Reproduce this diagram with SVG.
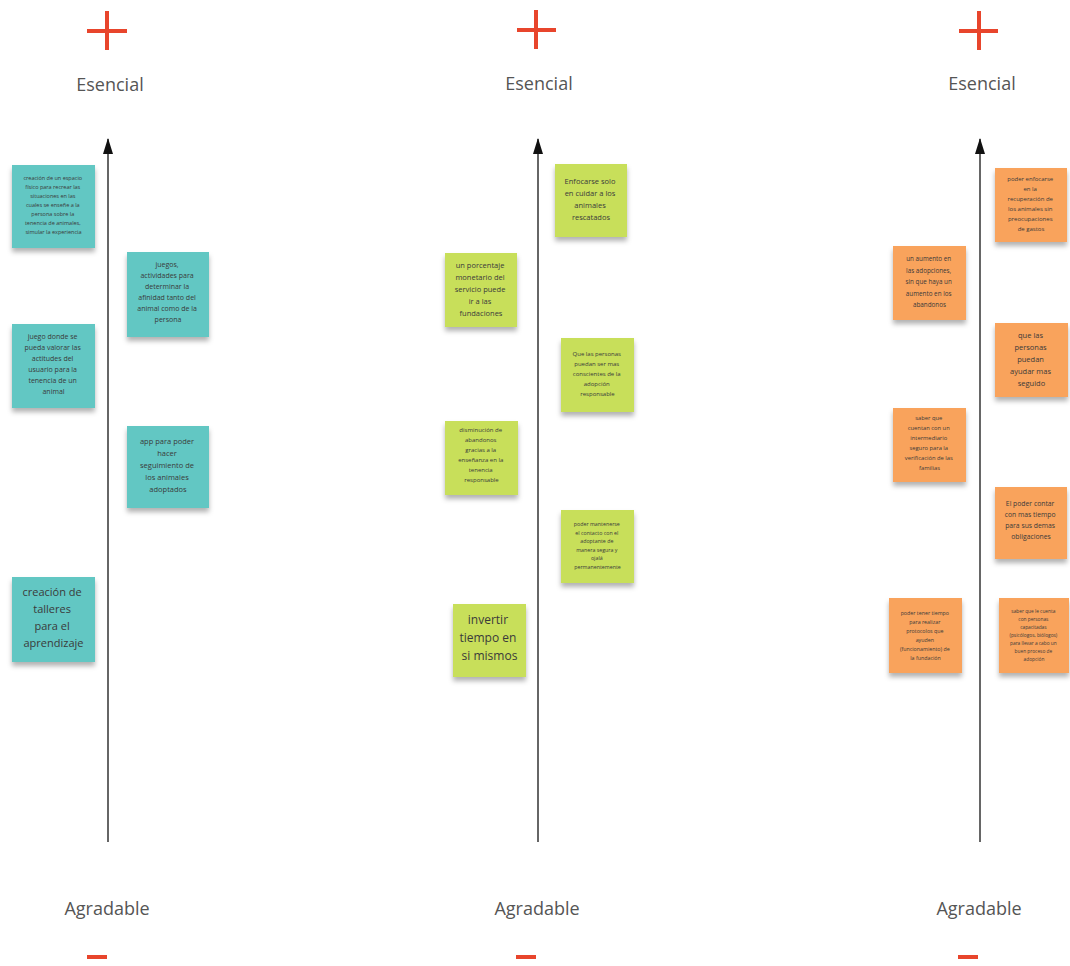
<svg xmlns="http://www.w3.org/2000/svg" width="1070" height="966" viewBox="0 0 1070 966">
<style>
.lbl{font-family:"Open Sans","Liberation Sans",sans-serif;font-size:18px;fill:#555;text-anchor:middle}
.t{font-family:"Open Sans","Liberation Sans",sans-serif;text-anchor:middle;fill:#3a3a3a}
.teal{fill:#62c7c3}
.lime{fill:#c8df5a}
.org{fill:#f9a35c}
.sign{stroke:#e8452c;stroke-width:4;fill:none}
.axis{stroke:#666;stroke-width:2;fill:none}
</style>
<defs>
<filter id="sh" x="-20%" y="-20%" width="140%" height="150%">
<feDropShadow dx="0" dy="4" stdDeviation="2.5" flood-color="#000" flood-opacity="0.3"/>
</filter>
<marker id="ah" viewBox="0 0 16 10" refX="15" refY="5" markerWidth="16" markerHeight="10" orient="auto" markerUnits="userSpaceOnUse">
<path d="M16,5 L0,0 L0,10 Z" fill="#111"/>
</marker>
</defs>

<g id="connectors">
<line class="axis" x1="108" y1="842" x2="108" y2="139" marker-end="url(#ah)"/>
<line class="axis" x1="538" y1="842" x2="538" y2="139" marker-end="url(#ah)"/>
<line class="axis" x1="980" y1="842" x2="980" y2="139" marker-end="url(#ah)"/>
</g>

<g id="labels">
<path class="sign" d="M87,31 H127 M107,11 V50"/>
<path class="sign" d="M517,30 H556 M536,10 V49"/>
<path class="sign" d="M959,31 H998 M979,11 V50"/>
<text class="lbl" x="110" y="91">Esencial</text>
<text class="lbl" x="539" y="90">Esencial</text>
<text class="lbl" x="982" y="90">Esencial</text>
<text class="lbl" x="107" y="915">Agradable</text>
<text class="lbl" x="537" y="915">Agradable</text>
<text class="lbl" x="979" y="915">Agradable</text>
<rect x="87" y="955" width="20" height="4" fill="#e8452c"/>
<rect x="516" y="955" width="20" height="4" fill="#e8452c"/>
<rect x="958" y="955" width="20" height="4" fill="#e8452c"/>
</g>

<!-- Left column -->
<g id="n1">
<rect class="teal" x="12" y="165" width="83" height="83" filter="url(#sh)"/>
<text class="t" font-size="5.5">
<tspan x="53.5" y="180">creación de un espacio</tspan>
<tspan x="53.5" y="189">físico para recrear las</tspan>
<tspan x="53.5" y="198">situaciones en las</tspan>
<tspan x="53.5" y="207">cuales se enseñe a la</tspan>
<tspan x="53.5" y="216">persona sobre la</tspan>
<tspan x="53.5" y="225">tenencia de animales,</tspan>
<tspan x="53.5" y="234">simular la experiencia</tspan>
</text>
</g>
<g id="n2">
<rect class="teal" x="127" y="252" width="82" height="85" filter="url(#sh)"/>
<text class="t" font-size="7">
<tspan x="168" y="267">juegos,</tspan>
<tspan x="168" y="278">actividades para</tspan>
<tspan x="168" y="289">determinar la</tspan>
<tspan x="168" y="300">afinidad tanto del</tspan>
<tspan x="168" y="311">animal como de la</tspan>
<tspan x="168" y="322">persona</tspan>
</text>
</g>
<g id="n3">
<rect class="teal" x="12" y="324" width="83" height="84" filter="url(#sh)"/>
<text class="t" font-size="7">
<tspan x="53.5" y="339">juego donde se</tspan>
<tspan x="53.5" y="350">pueda valorar las</tspan>
<tspan x="53.5" y="361">actitudes del</tspan>
<tspan x="53.5" y="372">usuario para la</tspan>
<tspan x="53.5" y="383">tenencia de un</tspan>
<tspan x="53.5" y="394">animal</tspan>
</text>
</g>
<g id="n4">
<rect class="teal" x="127" y="426" width="82" height="82" filter="url(#sh)"/>
<text class="t" font-size="7.5">
<tspan x="168" y="444">app para poder</tspan>
<tspan x="168" y="456">hacer</tspan>
<tspan x="168" y="468">seguimiento de</tspan>
<tspan x="168" y="480">los animales</tspan>
<tspan x="168" y="492">adoptados</tspan>
</text>
</g>
<g id="n5">
<rect class="teal" x="12" y="577" width="83" height="85" filter="url(#sh)"/>
<text class="t" font-size="11">
<tspan x="53.5" y="596">creación de</tspan>
<tspan x="53.5" y="613">talleres</tspan>
<tspan x="53.5" y="630">para el</tspan>
<tspan x="53.5" y="647">aprendizaje</tspan>
</text>
</g>

<!-- Middle column -->
<g id="m1">
<rect class="lime" x="555" y="164" width="72" height="73" filter="url(#sh)"/>
<text class="t" font-size="7.5">
<tspan x="591" y="184">Enfocarse solo</tspan>
<tspan x="591" y="196">en cuidar a los</tspan>
<tspan x="591" y="208">animales</tspan>
<tspan x="591" y="220">rescatados</tspan>
</text>
</g>
<g id="m2">
<rect class="lime" x="445" y="253" width="72" height="74" filter="url(#sh)"/>
<text class="t" font-size="7.5">
<tspan x="481" y="268">un porcentaje</tspan>
<tspan x="481" y="280">monetario del</tspan>
<tspan x="481" y="292">servicio puede</tspan>
<tspan x="481" y="304">ir a las</tspan>
<tspan x="481" y="316">fundaciones</tspan>
</text>
</g>
<g id="m3">
<rect class="lime" x="561" y="338" width="73" height="74" filter="url(#sh)"/>
<text class="t" font-size="6">
<tspan x="597.5" y="356">Que las personas</tspan>
<tspan x="597.5" y="366">puedan ser mas</tspan>
<tspan x="597.5" y="376">conscientes de la</tspan>
<tspan x="597.5" y="386">adopción</tspan>
<tspan x="597.5" y="396">responsable</tspan>
</text>
</g>
<g id="m4">
<rect class="lime" x="445" y="421" width="73" height="74" filter="url(#sh)"/>
<text class="t" font-size="6">
<tspan x="481.5" y="432">disminución de</tspan>
<tspan x="481.5" y="442">abandonos</tspan>
<tspan x="481.5" y="452">gracias a la</tspan>
<tspan x="481.5" y="462">enseñanza en la</tspan>
<tspan x="481.5" y="472">tenencia</tspan>
<tspan x="481.5" y="482">responsable</tspan>
</text>
</g>
<g id="m5">
<rect class="lime" x="561" y="510" width="73" height="73" filter="url(#sh)"/>
<text class="t" font-size="5.3">
<tspan x="597.5" y="526">poder mantenerse</tspan>
<tspan x="597.5" y="534.5">el contacto con el</tspan>
<tspan x="597.5" y="543">adoptante de</tspan>
<tspan x="597.5" y="551.5">manera segura y</tspan>
<tspan x="597.5" y="560">ojalá</tspan>
<tspan x="597.5" y="568.5">permanentemente</tspan>
</text>
</g>
<g id="m6">
<rect class="lime" x="453" y="604" width="73" height="73" filter="url(#sh)"/>
<text class="t" font-size="12">
<tspan x="489.5" y="624">invertir</tspan>
<tspan x="489.5" y="642">tiempo en</tspan>
<tspan x="489.5" y="660">si mismos</tspan>
</text>
</g>

<!-- Right column -->
<g id="r1">
<rect class="org" x="995" y="168" width="72" height="74" filter="url(#sh)"/>
<text class="t" font-size="6">
<tspan x="1031" y="181">poder enfocarse</tspan>
<tspan x="1031" y="191">en la</tspan>
<tspan x="1031" y="201">recuperación de</tspan>
<tspan x="1031" y="211">los animales sin</tspan>
<tspan x="1031" y="221">preocupaciones</tspan>
<tspan x="1031" y="231">de gastos</tspan>
</text>
</g>
<g id="r2">
<rect class="org" x="893" y="246" width="73" height="74" filter="url(#sh)"/>
<text class="t" font-size="6.3">
<tspan x="929.5" y="261">un aumento en</tspan>
<tspan x="929.5" y="272.5">las adopciones,</tspan>
<tspan x="929.5" y="284">sin que haya un</tspan>
<tspan x="929.5" y="295.5">aumento en los</tspan>
<tspan x="929.5" y="307">abandonos</tspan>
</text>
</g>
<g id="r3">
<rect class="org" x="995" y="323" width="73" height="74" filter="url(#sh)"/>
<text class="t" font-size="7.5">
<tspan x="1031.5" y="338">que las</tspan>
<tspan x="1031.5" y="350">personas</tspan>
<tspan x="1031.5" y="362">puedan</tspan>
<tspan x="1031.5" y="374">ayudar mas</tspan>
<tspan x="1031.5" y="386">seguido</tspan>
</text>
</g>
<g id="r4">
<rect class="org" x="893" y="408" width="73" height="74" filter="url(#sh)"/>
<text class="t" font-size="5.8">
<tspan x="929.5" y="420">saber que</tspan>
<tspan x="929.5" y="430">cuentan con un</tspan>
<tspan x="929.5" y="440">intermediario</tspan>
<tspan x="929.5" y="450">seguro para la</tspan>
<tspan x="929.5" y="460">verificación de las</tspan>
<tspan x="929.5" y="470">familias</tspan>
</text>
</g>
<g id="r5">
<rect class="org" x="995" y="487" width="72" height="72" filter="url(#sh)"/>
<text class="t" font-size="6.8">
<tspan x="1031" y="506">El poder contar</tspan>
<tspan x="1031" y="517">con mas tiempo</tspan>
<tspan x="1031" y="528">para sus demas</tspan>
<tspan x="1031" y="539">obligaciones</tspan>
</text>
</g>
<g id="r6">
<rect class="org" x="889" y="598" width="73" height="75" filter="url(#sh)"/>
<text class="t" font-size="5.3">
<tspan x="925.5" y="615">poder tener tiempo</tspan>
<tspan x="925.5" y="624">para realizar</tspan>
<tspan x="925.5" y="633">protocolos que</tspan>
<tspan x="925.5" y="642">ayuden</tspan>
<tspan x="925.5" y="651">(funcionamiento) de</tspan>
<tspan x="925.5" y="660">la fundación</tspan>
</text>
</g>
<g id="r7">
<rect class="org" x="999" y="598" width="70" height="75" filter="url(#sh)"/>
<text class="t" font-size="4.8">
<tspan x="1034" y="613">saber que le cuenta</tspan>
<tspan x="1034" y="621">con personas</tspan>
<tspan x="1034" y="629">capacitadas</tspan>
<tspan x="1034" y="637">(psicólogos, biólogos)</tspan>
<tspan x="1034" y="645">para llevar a cabo un</tspan>
<tspan x="1034" y="653">buen proceso de</tspan>
<tspan x="1034" y="661">adopción</tspan>
</text>
</g>
</svg>
